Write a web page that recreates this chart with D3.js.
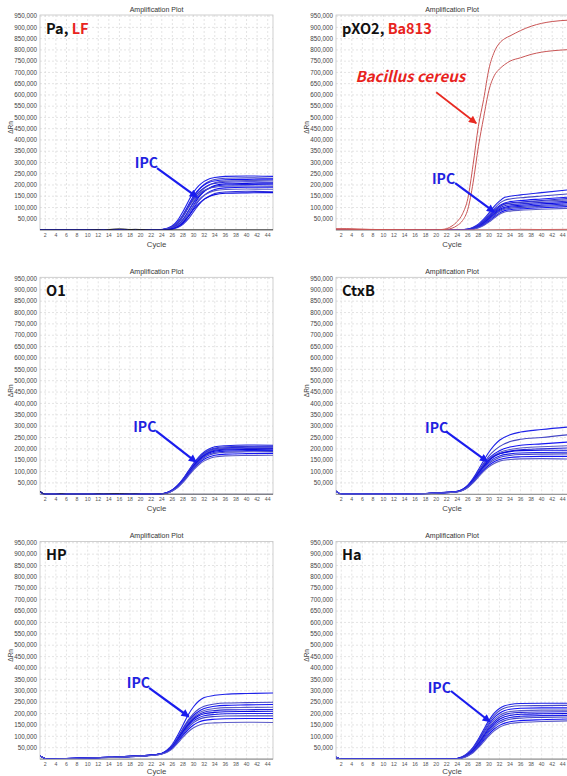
<!DOCTYPE html>
<html>
<head>
<meta charset="utf-8">
<script src="https://cdn.jsdelivr.net/npm/d3@7"></script>
<style>
  body { margin: 0; background: #fff; }
  svg { display: block; }
</style>
</head>
<body>
<svg id="chart"></svg>
<script>
// values are in thousands of ΔRn
const cycleTicks = d3.range(2, 45, 2);
const rnTicks = d3.range(50, 951, 50);

// Pa, LF
const paCycles = [1, 23, 24, 25, 26, 27, 28, 29, 30, 31, 32, 33, 34, 36, 40, 45];
const paIPC = [
  [0, 0, 2, 8, 19, 43, 82, 127, 168, 197, 216, 228, 233, 238, 240, 238],
  [0, 0, 1, 5, 12, 28, 58, 100, 144, 179, 202, 216, 224, 230, 232, 230],
  [0, 0, 2, 6, 15, 35, 68, 110, 151, 180, 200, 212, 218, 223, 225, 226],
  [0, 0, 1, 3, 9, 21, 46, 84, 125, 161, 185, 200, 210, 217, 220, 219],
  [0, 0, 1, 5, 13, 31, 61, 101, 140, 169, 188, 201, 207, 212, 214, 212],
  [0, 0, 0, 2, 7, 17, 37, 71, 110, 146, 171, 187, 198, 205, 207, 208],
  [0, 0, 1, 4, 9, 22, 46, 83, 121, 152, 174, 187, 194, 200, 202, 203],
  [0, 0, 2, 6, 15, 33, 63, 100, 134, 159, 175, 185, 190, 194, 196, 195],
  [0, 0, 0, 2, 6, 14, 32, 61, 97, 130, 154, 170, 180, 187, 190, 190],
  [0, 0, 1, 3, 8, 18, 40, 71, 106, 135, 155, 167, 175, 180, 182, 181],
  [0, 0, 0, 1, 4, 11, 25, 49, 81, 113, 136, 151, 162, 169, 172, 170],
  [0, 0, 0, 2, 6, 15, 32, 59, 91, 117, 137, 149, 157, 163, 165, 166]
];
const paNoiseCycles = [1, 10, 12, 13, 14, 15, 16, 17, 18, 19, 20, 21, 22, 45];
const paNoise = [0, 0, 1, 0, 2, 4, 5, 4, 2, 3, 2, 1, 0, 0];

// pXO2, Ba813
const pxCycles = [1, 24, 25, 26, 27, 28, 29, 30, 31, 32, 33, 34, 36, 40, 45];
const pxIPC = [
  [0, 0, 1, 4, 12, 26, 48, 75, 105, 128, 145, 150, 156, 166, 178],
  [0, 0, 1, 4, 10, 22, 42, 68, 95, 118, 132, 138, 143, 151, 160],
  [0, 0, 1, 3, 9, 20, 38, 62, 88, 108, 120, 126, 131, 138, 146],
  [0, 0, 0, 3, 8, 18, 35, 58, 82, 102, 114, 118, 122, 128, 134],
  [0, 0, 0, 2, 7, 16, 32, 54, 78, 97, 108, 112, 116, 122, 128],
  [0, 0, 0, 2, 6, 15, 30, 50, 73, 91, 101, 106, 110, 116, 122],
  [0, 0, 0, 2, 6, 14, 28, 47, 69, 87, 97, 101, 105, 110, 116],
  [0, 0, 0, 1, 5, 12, 25, 43, 64, 82, 92, 96, 100, 105, 110],
  [0, 0, 0, 1, 4, 11, 22, 39, 58, 75, 86, 90, 94, 99, 104],
  [0, 0, 0, 1, 4, 10, 20, 35, 53, 70, 80, 84, 88, 92, 96],
  [0, 0, 0, 2, 8, 19, 37, 60, 84, 104, 116, 120, 124, 131, 140]
];
const bcCycles = [1, 20, 21, 22, 23, 24, 25, 26, 27, 28, 29, 30, 31, 32, 33, 34, 36, 38, 40, 42, 45];
const bcCurves = [
  [4, 0, 2, 6, 18, 38, 72, 140, 290, 460, 580, 715, 790, 830, 850, 862, 886, 905, 918, 926, 932],
  [4, 0, 1, 3, 8, 20, 42, 92, 210, 370, 500, 620, 685, 715, 735, 750, 765, 780, 790, 796, 801]
];
const bcBaseCycles = [1, 3, 5, 7, 9, 12, 20, 30, 36, 40, 45];
const bcBase = [5, 6, 4, 3, 2, 0, 0, 0, 3, 2, 3];

// O1
const o1Cycles = [1, 2, 23, 24, 25, 26, 27, 28, 29, 30, 31, 32, 33, 34, 36, 40, 45];
const o1IPC = [
  [12, 0, 0, 2, 8, 20, 40, 68, 102, 136, 165, 186, 200, 209, 214, 217, 216],
  [12, 0, 0, 2, 8, 19, 39, 66, 100, 133, 161, 182, 196, 204, 209, 211, 212],
  [12, 0, 0, 2, 7, 19, 38, 65, 98, 130, 158, 179, 192, 200, 205, 207, 208],
  [12, 0, 0, 2, 7, 18, 37, 63, 96, 128, 155, 176, 189, 197, 202, 204, 205],
  [12, 0, 0, 2, 7, 18, 36, 62, 94, 126, 153, 173, 186, 194, 199, 201, 202],
  [12, 0, 0, 2, 7, 18, 36, 61, 93, 124, 150, 170, 183, 190, 195, 197, 198],
  [12, 0, 0, 2, 6, 17, 35, 60, 91, 121, 147, 166, 178, 185, 190, 192, 193],
  [12, 0, 0, 2, 6, 17, 34, 58, 88, 117, 142, 161, 173, 180, 185, 187, 188],
  [12, 0, 0, 1, 6, 16, 32, 55, 84, 112, 136, 154, 165, 172, 177, 179, 180],
  [12, 0, 0, 1, 5, 15, 30, 52, 80, 107, 130, 147, 158, 164, 169, 171, 172]
];
const o1NoiseCycles = [1, 2, 4, 5, 6, 11, 12, 13, 14, 15, 16, 17, 18, 19, 20, 45];
const o1Noise = [14, 0, 0, 3, 0, 0, 2, 1, 2, 3, 3, 2, 1, 2, 0, 0];

// CtxB
const ctCycles = [1, 2, 14, 20, 24, 25, 26, 27, 28, 29, 30, 31, 32, 34, 36, 40, 45];
const ctIPC = [
  [14, 1, 1, 6, 13, 22, 40, 70, 108, 148, 185, 215, 238, 262, 274, 285, 296],
  [14, 1, 1, 6, 13, 21, 38, 66, 100, 136, 168, 192, 210, 232, 242, 250, 262],
  [14, 1, 1, 6, 12, 21, 38, 65, 98, 130, 158, 178, 192, 208, 216, 222, 230],
  [14, 1, 1, 6, 12, 20, 37, 64, 96, 127, 153, 172, 184, 197, 204, 209, 214],
  [14, 1, 1, 5, 12, 20, 36, 63, 94, 124, 150, 168, 178, 190, 196, 200, 204],
  [14, 1, 1, 5, 12, 20, 36, 62, 92, 122, 148, 166, 178, 188, 192, 194, 194],
  [14, 1, 1, 5, 11, 19, 34, 59, 88, 117, 141, 158, 169, 178, 182, 184, 185],
  [14, 1, 1, 5, 11, 18, 33, 56, 84, 112, 135, 151, 162, 171, 175, 177, 178],
  [14, 1, 1, 5, 11, 18, 31, 53, 80, 106, 128, 143, 153, 162, 165, 167, 167],
  [14, 1, 1, 5, 10, 17, 30, 50, 76, 101, 121, 136, 146, 153, 156, 157, 155]
];

// HP
const hpCycles = [1, 2.5, 6, 14, 20, 23, 24, 25, 26, 27, 28, 29, 30, 31, 32, 34, 36, 40, 45];
const hpIPC = [
  [14, 0, 2, 8, 14, 20, 26, 40, 65, 105, 150, 195, 230, 255, 270, 280, 285, 288, 290],
  [14, 0, 2, 8, 14, 20, 25, 38, 60, 95, 135, 172, 200, 220, 232, 242, 246, 248, 250],
  [14, 0, 2, 8, 14, 20, 25, 37, 58, 92, 130, 165, 192, 210, 222, 232, 236, 238, 240],
  [14, 0, 2, 8, 14, 20, 25, 36, 57, 90, 126, 160, 186, 203, 213, 222, 226, 227, 228],
  [14, 0, 2, 8, 14, 20, 25, 36, 56, 88, 123, 155, 180, 196, 206, 213, 216, 217, 218],
  [14, 0, 2, 8, 14, 20, 25, 35, 55, 86, 120, 151, 175, 190, 199, 205, 208, 209, 210],
  [14, 0, 2, 8, 14, 19, 24, 34, 53, 83, 115, 145, 168, 182, 190, 196, 199, 200, 200],
  [14, 0, 2, 7, 13, 19, 24, 33, 51, 79, 110, 138, 160, 174, 182, 187, 189, 190, 190],
  [14, 0, 2, 7, 13, 19, 23, 32, 49, 75, 104, 130, 150, 163, 170, 175, 177, 178, 178],
  [14, 0, 2, 7, 13, 18, 22, 30, 45, 70, 96, 120, 138, 149, 155, 159, 161, 162, 161]
];

// Ha
const haCycles = [1, 2, 23, 24, 25, 26, 27, 28, 29, 30, 31, 32, 33, 34, 36, 40, 45];
const haIPC = [
  [8, 0, 0, 3, 11, 27, 52, 88, 130, 170, 202, 222, 234, 240, 244, 245, 245],
  [8, 0, 0, 3, 10, 25, 49, 83, 123, 161, 192, 212, 224, 230, 234, 235, 236],
  [8, 0, 0, 2, 9, 23, 46, 78, 116, 152, 182, 201, 213, 219, 223, 225, 225],
  [8, 0, 0, 2, 9, 22, 44, 74, 110, 145, 173, 192, 203, 209, 213, 215, 215],
  [8, 0, 0, 2, 8, 20, 41, 70, 104, 138, 165, 184, 195, 201, 205, 207, 208],
  [8, 0, 0, 2, 8, 19, 39, 66, 99, 131, 157, 175, 186, 192, 197, 199, 200],
  [8, 0, 0, 2, 7, 18, 36, 62, 93, 124, 149, 166, 177, 183, 188, 191, 192],
  [8, 0, 0, 1, 7, 17, 34, 58, 88, 117, 141, 158, 169, 175, 180, 183, 185],
  [8, 0, 0, 1, 6, 15, 31, 54, 82, 109, 132, 148, 158, 164, 169, 173, 176],
  [8, 0, 0, 1, 5, 14, 28, 50, 76, 102, 124, 140, 150, 156, 161, 165, 168]
];

const RED = "#e8231d";
const BLUE_TXT = "#1f22e0";
const blues = ["#1e22e8", "#4446c6", "#1414f4", "#5a5ac8", "#2a2ad8", "#0c0ce0"];

const cols = [{left: 40, width: 233}, {left: 336, width: 232}];
const rows = [{top: 15, bottom: 230}, {top: 277.3, bottom: 494.3}, {top: 541.6, bottom: 759.1}];

const panels = [
  {row: 0, col: 0, label: [["Pa, ", "#111"], ["LF", RED]], cycles: paCycles, curves: paIPC,
   extra: [{cycles: paNoiseCycles, values: paNoise, color: "#222"}],
   ipc: {text: [18.9, 275], from: [23.1, 275], to: [30.65, 146]}},
  {row: 0, col: 1, label: [["pXO2, ", "#111"], ["Ba813", RED]], cycles: pxCycles, curves: pxIPC,
   extra: [{cycles: bcBaseCycles, values: bcBase, color: "#d06464"}]
     .concat(bcCurves.map(v => ({cycles: bcCycles, values: v, color: "#c95555"}))),
   ipc: {text: [19.2, 204], from: [23.6, 208], to: [31.0, 80]},
   red: {text: [4.7, 656], from: [20.0, 612], to: [27.6, 474], label: "Bacillus cereus"}},
  {row: 1, col: 0, label: [["O1", "#111"]], cycles: o1Cycles, curves: o1IPC,
   extra: [{cycles: o1NoiseCycles, values: o1Noise, color: "#23234a"}],
   ipc: {text: [18.6, 276], from: [22.9, 279], to: [30.5, 142]}},
  {row: 1, col: 1, label: [["CtxB", "#111"]], cycles: ctCycles, curves: ctIPC, extra: [],
   ipc: {text: [17.9, 271], from: [21.9, 276], to: [29.7, 144]}},
  {row: 2, col: 0, label: [["HP", "#111"]], cycles: hpCycles, curves: hpIPC, extra: [],
   ipc: {text: [17.4, 312], from: [21.6, 313], to: [29.1, 186]}},
  {row: 2, col: 1, label: [["Ha", "#111"]], cycles: haCycles, curves: haIPC, extra: [],
   ipc: {text: [18.4, 291], from: [22.8, 299], to: [30.2, 164]}}
];

const svg = d3.select("#chart").attr("width", 567).attr("height", 776);
const defs = svg.append("defs");

[["head-blue", "#1a1cee"], ["head-red", "#e82a22"]].forEach(([id, c]) => {
  defs.append("marker")
    .attr("id", id)
    .attr("viewBox", "0 0 10 10")
    .attr("refX", 9).attr("refY", 5)
    .attr("markerUnits", "userSpaceOnUse")
    .attr("markerWidth", 10).attr("markerHeight", 8)
    .attr("orient", "auto")
    .append("path")
    .attr("d", "M0,0 L10,5 L0,10 Z")
    .attr("fill", c);
});

const fmt = d3.format(",");

panels.forEach((p, i) => {
  const col = cols[p.col], row = rows[p.row];
  const x = d3.scaleLinear().domain([1, 45]).range([col.left, col.left + col.width]);
  const y = d3.scaleLinear().domain([0, 955]).range([row.bottom, row.top]);
  const g = svg.append("g");

  defs.append("clipPath").attr("id", "clip" + i)
    .append("rect")
    .attr("x", col.left).attr("y", row.top)
    .attr("width", col.width).attr("height", row.bottom - row.top);

  // grid
  g.append("g").selectAll("line")
    .data(cycleTicks)
    .enter().append("line")
    .attr("x1", d => x(d)).attr("x2", d => x(d))
    .attr("y1", row.top).attr("y2", row.bottom)
    .attr("stroke", "#d9d9d9").attr("stroke-width", 0.7)
    .attr("stroke-dasharray", "2,2");

  g.append("g").selectAll("line")
    .data(rnTicks)
    .enter().append("line")
    .attr("x1", col.left).attr("x2", col.left + col.width)
    .attr("y1", d => y(d)).attr("y2", d => y(d))
    .attr("stroke", "#d9d9d9").attr("stroke-width", 0.7)
    .attr("stroke-dasharray", "2,2");

  g.append("rect")
    .attr("x", col.left).attr("y", row.top)
    .attr("width", col.width).attr("height", row.bottom - row.top)
    .attr("fill", "none").attr("stroke", "#c4c4c4").attr("stroke-width", 0.8);

  g.append("line")
    .attr("x1", col.left).attr("x2", col.left + col.width)
    .attr("y1", row.bottom).attr("y2", row.bottom)
    .attr("stroke", "#8a8a8a").attr("stroke-width", 1);

  // y tick labels
  g.append("g").selectAll("text")
    .data(rnTicks)
    .enter().append("text")
    .attr("x", col.left - 3)
    .attr("y", d => y(d) + 2.2)
    .attr("text-anchor", "end")
    .attr("font-family", "Liberation Sans, Arial, sans-serif")
    .attr("font-size", 6.3)
    .attr("fill", "#444")
    .text(d => fmt(d * 1000));

  // x tick labels
  g.append("g").selectAll("text")
    .data(cycleTicks)
    .enter().append("text")
    .attr("x", d => x(d))
    .attr("y", row.bottom + 6.5)
    .attr("text-anchor", "middle")
    .attr("font-family", "Liberation Sans, Arial, sans-serif")
    .attr("font-size", 5.2)
    .attr("fill", "#555")
    .text(d => d);

  g.append("text")
    .attr("x", col.left + col.width / 2)
    .attr("y", row.top - 3.5)
    .attr("text-anchor", "middle")
    .attr("font-family", "Liberation Sans, Arial, sans-serif")
    .attr("font-size", 7)
    .attr("fill", "#333")
    .text("Amplification Plot");

  g.append("text")
    .attr("x", col.left + col.width / 2)
    .attr("y", Math.min(row.bottom + 16.5, 773.5))
    .attr("text-anchor", "middle")
    .attr("font-family", "Liberation Sans, Arial, sans-serif")
    .attr("font-size", 7.8)
    .attr("fill", "#444")
    .text("Cycle");

  g.append("text")
    .attr("transform", `translate(${col.left - 27},${(row.top + row.bottom) / 2 + 5}) rotate(-90)`)
    .attr("text-anchor", "middle")
    .attr("font-family", "Liberation Sans, Arial, sans-serif")
    .attr("font-size", 6.5)
    .attr("fill", "#444")
    .text("ΔRn");

  // curves
  const line = d3.line()
    .x(d => x(d[0]))
    .y(d => y(d[1]))
    .curve(d3.curveMonotoneX);

  const plot = g.append("g").attr("clip-path", `url(#clip${i})`);

  plot.selectAll(".ipc")
    .data(p.curves)
    .enter().append("path")
    .attr("class", "ipc")
    .attr("d", v => line(v.map((val, k) => [p.cycles[k], val])))
    .attr("fill", "none")
    .attr("stroke", (v, k) => blues[k % blues.length])
    .attr("stroke-width", 1.1);

  plot.selectAll(".extra")
    .data(p.extra)
    .enter().append("path")
    .attr("class", "extra")
    .attr("d", e => line(e.values.map((val, k) => [e.cycles[k], val])))
    .attr("fill", "none")
    .attr("stroke", e => e.color)
    .attr("stroke-width", 1);

  // panel label
  const lab = g.append("text")
    .attr("x", col.left + 6)
    .attr("y", row.top + 18.5)
    .attr("font-family", "Noto Sans CJK KR, Noto Sans, sans-serif")
    .attr("font-size", 14.5)
    .attr("font-weight", 600);
  p.label.forEach(([t, c]) => lab.append("tspan").attr("fill", c).text(t));

  // IPC annotation
  g.append("text")
    .attr("x", x(p.ipc.text[0]))
    .attr("y", y(p.ipc.text[1]))
    .attr("font-family", "Noto Sans CJK KR, Noto Sans, sans-serif")
    .attr("font-size", 14)
    .attr("font-weight", 600)
    .attr("fill", BLUE_TXT)
    .text("IPC");

  g.append("line")
    .attr("x1", x(p.ipc.from[0])).attr("y1", y(p.ipc.from[1]))
    .attr("x2", x(p.ipc.to[0])).attr("y2", y(p.ipc.to[1]))
    .attr("stroke", "#1a1cee").attr("stroke-width", 2.2)
    .attr("marker-end", "url(#head-blue)");

  if (p.red) {
    g.append("text")
      .attr("x", x(p.red.text[0]))
      .attr("y", y(p.red.text[1]))
      .attr("font-family", "Noto Sans CJK KR, Noto Sans, sans-serif")
      .attr("font-size", 15)
      .attr("font-weight", 700)
      .attr("font-style", "italic")
      .attr("fill", RED)
      .text(p.red.label);

    g.append("line")
      .attr("x1", x(p.red.from[0])).attr("y1", y(p.red.from[1]))
      .attr("x2", x(p.red.to[0])).attr("y2", y(p.red.to[1]))
      .attr("stroke", "#e82a22").attr("stroke-width", 1.7)
      .attr("marker-end", "url(#head-red)");
  }
});
</script>
</body>
</html>
